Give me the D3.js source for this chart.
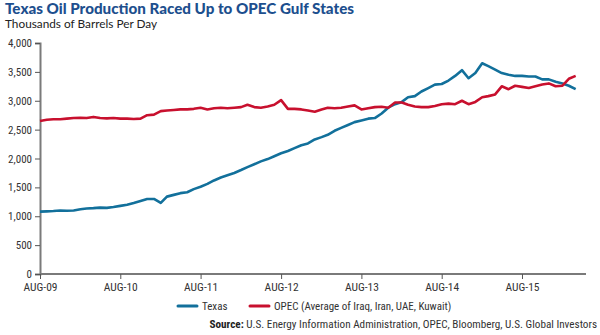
<!DOCTYPE html>
<html><head><meta charset="utf-8">
<script src="https://cdn.jsdelivr.net/npm/d3@7"></script>
<style>
html,body{margin:0;padding:0;background:#fff;}
svg{display:block;}
</style></head>
<body>
<svg id="chart" width="600" height="335"></svg>
<script>
const startYear = 2009, startMonth = 7; // Aug 2009
const texas = [1080,1085,1090,1100,1095,1100,1120,1135,1140,1150,1145,1160,
 1180,1200,1230,1265,1300,1300,1230,1340,1370,1400,1415,1470,
 1510,1560,1620,1670,1710,1750,1800,1850,1900,1950,1990,2040,
 2090,2130,2180,2230,2260,2330,2370,2410,2480,2530,2580,2630,
 2660,2690,2700,2780,2880,2940,2980,3060,3080,3160,3220,3280,
 3290,3350,3430,3530,3390,3480,3650,3600,3540,3480,3450,3430,
 3430,3420,3420,3370,3370,3330,3300,3260,3200];
const opec = [2650,2670,2680,2680,2690,2700,2705,2700,2720,2700,2695,2700,
 2690,2690,2685,2690,2750,2760,2820,2830,2840,2850,2850,2860,
 2880,2850,2870,2880,2870,2880,2890,2930,2890,2880,2900,2930,
 3010,2860,2860,2850,2830,2810,2850,2880,2870,2880,2900,2920,
 2850,2870,2890,2895,2880,2970,2970,2930,2900,2890,2890,2910,
 2940,2950,2940,3000,2940,2980,3060,3080,3110,3250,3200,3260,
 3240,3220,3250,3280,3300,3250,3260,3380,3430];
const yTicks = [0,500,1000,1500,2000,2500,3000,3500,4000];
const xTickYears = [2009,2010,2011,2012,2013,2014,2015];
const xTickLabels = ["AUG-09","AUG-10","AUG-11","AUG-12","AUG-13","AUG-14","AUG-15"];
const seriesNames = ["Texas","OPEC (Average of Iraq, Iran, UAE, Kuwait)"];
const colors = ["#12709b","#c8102e"];

const svg = d3.select("#chart");
const pLeft = 40, pRight = 586, pTop = 43, pBottom = 274;
const x = d3.scaleTime().domain([new Date(2009,7,1), new Date(2016,4,18)]).range([pLeft,pRight]);
const y = d3.scaleLinear().domain([0,4000]).range([pBottom,pTop]);
const dateOf = i => new Date(startYear, startMonth + i, 1);

const cond = "'Liberation Sans Narrow','Roboto Condensed','Arial Narrow',Roboto,sans-serif";

// Title
svg.append("text").attr("x",5).attr("y",14)
  .attr("font-family","Lato, 'Open Sans', sans-serif").attr("font-weight",900)
  .attr("font-size",15.2).attr("fill","#1d4f8e")
  .text("Texas Oil Production Raced Up to OPEC Gulf States");
svg.append("text").attr("x",5).attr("y",28)
  .attr("font-family","Lato, 'Open Sans', sans-serif")
  .attr("font-size",11.8).attr("fill","#222")
  .text("Thousands of Barrels Per Day");

// Y axis
const yAxis = d3.axisLeft(y).tickValues(yTicks).tickSize(5).tickPadding(3).tickFormat(d3.format(","));
const gy = svg.append("g").attr("transform",`translate(${pLeft},0)`).call(yAxis);
gy.select(".domain").attr("stroke","#7a7a7a").attr("stroke-width",2);
gy.selectAll(".tick line").attr("stroke","#555").attr("stroke-width",1);
gy.selectAll(".tick text").attr("font-family",cond).attr("font-size",11).attr("fill","#333");

// X axis
const xAxis = d3.axisBottom(x).tickValues(xTickYears.map(yr=>new Date(yr,7,1)))
  .tickSize(5).tickPadding(4).tickFormat((d,i)=>xTickLabels[i]);
const gx = svg.append("g").attr("transform",`translate(0,${pBottom})`).call(xAxis);
gx.select(".domain").attr("stroke","#7a7a7a").attr("stroke-width",2).attr("d",`M${pLeft},0H${pRight}`);
gx.selectAll(".tick line").attr("stroke","#555").attr("stroke-width",1);
gx.selectAll(".tick text").attr("font-family",cond).attr("font-size",11.5).attr("fill","#333");

// Lines
const line = d3.line().x((d,i)=>x(dateOf(i))).y(d=>y(d));
[texas, opec].forEach((s,k)=>{
  svg.append("path").datum(s).attr("d",line).attr("fill","none")
    .attr("stroke",colors[k]).attr("stroke-width",2.6).attr("stroke-linejoin","round");
});

// Legend
const legX = [178, 250];
seriesNames.forEach((n,k)=>{
  svg.append("line").attr("x1",legX[k]).attr("x2",legX[k]+19).attr("y1",306).attr("y2",306)
    .attr("stroke",colors[k]).attr("stroke-width",3).attr("stroke-linecap","round");
  svg.append("text").attr("x",legX[k]+24).attr("y",310).attr("font-family",cond)
    .attr("font-size",11).attr("fill","#333").text(n);
});

// Source
const src = svg.append("text").attr("x",597).attr("y",328).attr("text-anchor","end")
  .attr("font-family",cond).attr("font-size",11.2).attr("fill","#333");
src.append("tspan").attr("font-weight","bold").attr("fill","#222").text("Source:");
src.append("tspan").text(" U.S. Energy Information Administration, OPEC, Bloomberg, U.S. Global Investors");
</script>
</body></html>
